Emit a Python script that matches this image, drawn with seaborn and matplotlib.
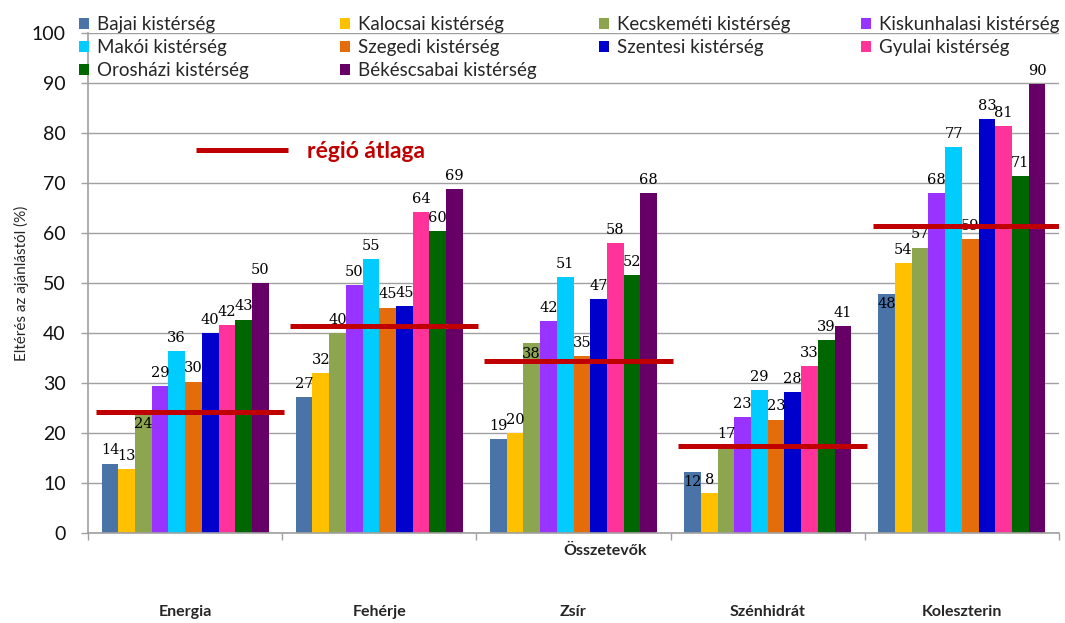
import matplotlib
matplotlib.use("Agg")
import matplotlib.pyplot as plt
import pandas as pd
import seaborn as sns

# Nutrient components and the district series (percent deviation from recommendation)
categories = ["Energia", "Fehérje", "Zsír", "Szénhidrát", "Koleszterin"]
districts = [
    "Bajai kistérség", "Kalocsai kistérség", "Kecskeméti kistérség",
    "Kiskunhalasi kistérség", "Makói kistérség", "Szegedi kistérség",
    "Szentesi kistérség", "Gyulai kistérség", "Orosházi kistérség",
    "Békéscsabai kistérség",
]
colors = [
    "#4A74A8", "#FFC000", "#8DA54F", "#9933FF", "#00CCFF",
    "#E46C0A", "#0000CC", "#FF3399", "#006600", "#660066",
]

bajai = [13.9, 27.3, 18.9, 12.3, 47.9]
kalocsai = [12.9, 32.1, 20.1, 8.1, 54.1]
kecskemeti = [24.0, 40.1, 38.1, 17.2, 57.1]
kiskunhalasi = [29.4, 49.7, 42.4, 23.3, 68.1]
makoi = [36.4, 54.9, 51.2, 28.6, 77.2]
szegedi = [30.3, 45.1, 35.4, 22.7, 58.9]
szentesi = [40.1, 45.4, 46.9, 28.2, 82.9]
gyulai = [41.7, 64.2, 58.0, 33.4, 81.4]
oroshazi = [42.7, 60.4, 51.6, 38.6, 71.4]
bekescsabai = [50.1, 68.9, 68.1, 41.4, 89.8]

# Regional average for each component
region_avg = [24.2, 41.4, 34.5, 17.4, 61.5]

series = [bajai, kalocsai, kecskemeti, kiskunhalasi, makoi,
          szegedi, szentesi, gyulai, oroshazi, bekescsabai]

# Labels that sit just inside the top of their bar
inside_labels = {("Energia", 2), ("Zsír", 2), ("Szénhidrát", 0), ("Koleszterin", 0)}

rows = []
for name, vals in zip(districts, series):
    for cat, v in zip(categories, vals):
        rows.append({"Összetevő": cat, "Kistérség": name, "Érték": v})
df = pd.DataFrame(rows)

sns.set_style("white")
plt.rcParams["font.family"] = ["Lato", "DejaVu Sans"]

W, H = 1065, 623
fig = plt.figure(figsize=(W / 100, H / 100), dpi=100)
ax = fig.add_axes([88 / W, 1 - 533 / H, (1059 - 88) / W, 500 / H])

sns.barplot(
    data=df, x="Összetevő", y="Érték", hue="Kistérség",
    order=categories, hue_order=districts, palette=colors,
    width=0.86, gap=0, saturation=1, errorbar=None,
    linewidth=0, ax=ax, legend=True,
)

# Value labels
label_style = dict(ha="center", fontsize=10.5, family="DejaVu Serif",
                   color="black", zorder=4, textcoords="offset pixels")
for j, (container, vals) in enumerate(zip(ax.containers, series)):
    for i, (bar, v) in enumerate(zip(container, vals)):
        cx = bar.get_x() + bar.get_width() / 2
        if (categories[i], j) in inside_labels:
            ax.annotate(f"{v:.0f}", (cx, v), xytext=(0, -4), va="top", **label_style)
        else:
            ax.annotate(f"{v:.0f}", (cx, v), xytext=(0, 6), va="bottom", **label_style)

# Regional average lines
for i, avg in enumerate(region_avg):
    ax.plot([i - 0.46, i + 0.51], [avg, avg], color="#C00000", lw=3.6,
            solid_capstyle="butt", zorder=6)

# Key for the average line
ax.plot([(196 - 88) / 971, (288 - 88) / 971], [(533 - 150) / 500] * 2,
        transform=ax.transAxes, color="#C00000", lw=3.6, solid_capstyle="butt",
        clip_on=False, zorder=6)
ax.text((307 - 88) / 971, (533 - 151) / 500, "régió átlaga", transform=ax.transAxes,
        color="#C00000", fontsize=16.5, fontweight="bold", va="center", ha="left")

# Axes styling
ax.set_ylim(0, 100)
ax.set_xlim(-0.5, 4.5)
ax.set_yticks(range(0, 101, 10))
ax.yaxis.grid(True, color="#A0A0A0", lw=1)
ax.set_axisbelow(True)
for side in ("top", "right"):
    ax.spines[side].set_visible(False)
for side in ("left", "bottom"):
    ax.spines[side].set_color("#A0A0A0")
    ax.spines[side].set_linewidth(1.2)

ax.tick_params(axis="y", which="major", left=True, length=5, width=1, color="#A0A0A0",
               labelsize=14, pad=11, labelcolor="#111111")
ax.set_xticks(range(len(categories)))
ax.set_xticklabels(categories, fontsize=11.5, fontweight="bold")
ax.set_xticks([k - 0.5 for k in range(len(categories) + 1)], minor=True)
ax.tick_params(axis="x", which="major", bottom=False, length=0, pad=52)
ax.tick_params(axis="x", which="minor", bottom=True, length=5, width=1, color="#A0A0A0")

ax.set_xlabel("")
ax.set_ylabel("Eltérés az ajánlástól (%)", fontsize=11)
ax.yaxis.set_label_coords((29 - 88) / 971, 0.5)
fig.text(605 / W, 1 - 551 / H, "Összetevők", ha="center", va="center",
         fontsize=11.5, fontweight="bold")

# Legend laid out row by row in four columns
handles, labels = ax.get_legend_handles_labels()
ax.get_legend().remove()
col_x = [79, 340, 599, 861]
for c, x in enumerate(col_x):
    idx = list(range(c, len(handles), 4))
    fig.legend([handles[k] for k in idx], [labels[k] for k in idx],
               loc="upper left", bbox_to_anchor=(x / W, 1 - 16 / H),
               frameon=False, fontsize=13.5,
               handlelength=0.55, handleheight=0.55, handletextpad=0.4,
               labelspacing=0.32, borderpad=0, borderaxespad=0)

fig.savefig("out.png", dpi=100, facecolor="white")
